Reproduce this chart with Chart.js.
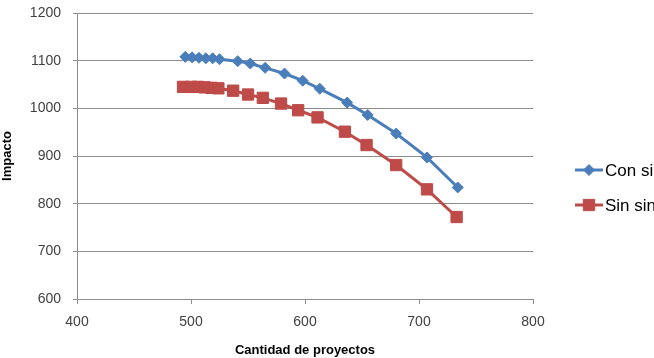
<!DOCTYPE html>
<html>
<head>
<meta charset="utf-8">
<script src="https://cdn.jsdelivr.net/npm/chart.js@4"></script>
<style>
  html, body { margin: 0; padding: 0; background: #fff; }
  #wrap { width: 654px; height: 358px; }
</style>
</head>
<body>
<div id="wrap"><canvas id="chart" width="654" height="358"></canvas></div>
<script>
// ================= DATA =================
const seriesNames = ["Con sinergias", "Sin sinergias"];

const conX = [495, 501, 507, 513, 519, 525, 541, 552, 565, 582, 598, 613, 637, 655, 680, 707, 734];
const conY = [1108, 1107, 1106, 1105, 1105, 1103, 1099, 1094, 1085, 1073, 1058, 1041, 1012, 986, 947, 897, 834];

const sinX = [493, 500, 506, 512, 518, 524, 537, 550, 563, 579, 594, 611, 635, 654, 680, 707, 733];
const sinY = [1045, 1045, 1045, 1044, 1043, 1042, 1037, 1029, 1022, 1010, 996, 981, 951, 923, 881, 830, 772];

const xTicks = [400, 500, 600, 700, 800];
const yTicks = [600, 700, 800, 900, 1000, 1100, 1200];

const xTitle = "Cantidad de proyectos";
const yTitle = "Impacto";

// ================= STYLE =================
const blue = "#4a7ebb";
const red = "#be4b48";
const gridColor = "#8c8c8c";
const textColor = "#404040";
const fontFamily = "'Liberation Sans', 'DejaVu Sans', sans-serif";

function toPoints(xs, ys) {
  return xs.map((x, i) => ({ x: x, y: ys[i] }));
}

// ================= LEGEND (drawn at right of plot) =================
const sideLegend = {
  id: "sideLegend",
  afterDraw(chart) {
    const ctx = chart.ctx;
    const area = chart.chartArea;
    const left = area.right + 42;
    const rows = [170, 205];
    ctx.save();
    chart.data.datasets.forEach((ds, i) => {
      const y = rows[i];
      ctx.strokeStyle = ds.borderColor;
      ctx.lineWidth = 3;
      ctx.beginPath();
      ctx.moveTo(left, y);
      ctx.lineTo(left + 28, y);
      ctx.stroke();
      ctx.fillStyle = ds.backgroundColor;
      ctx.lineWidth = 1;
      Chart.helpers.drawPoint(ctx, {
        pointStyle: ds.pointStyle,
        radius: ds.pointRadius,
        borderWidth: 1
      }, left + 14, y);
      ctx.fillStyle = "#000";
      ctx.font = "17px " + fontFamily;
      ctx.textBaseline = "middle";
      ctx.textAlign = "left";
      ctx.fillText(ds.label, left + 30, y + 1);
    });
    ctx.restore();
  }
};

// ================= CHART =================
new Chart(document.getElementById("chart"), {
  type: "scatter",
  data: {
    datasets: [
      {
        label: seriesNames[0],
        data: toPoints(conX, conY),
        showLine: true,
        borderColor: blue,
        backgroundColor: blue,
        borderWidth: 3,
        pointStyle: "rectRot",
        pointRadius: 5.5,
        pointHoverRadius: 5.5,
        pointBorderWidth: 1,
        tension: 0
      },
      {
        label: seriesNames[1],
        data: toPoints(sinX, sinY),
        showLine: true,
        borderColor: red,
        backgroundColor: red,
        borderWidth: 3,
        pointStyle: "rect",
        pointRadius: 8,
        pointHoverRadius: 8,
        pointBorderWidth: 1,
        tension: 0
      }
    ]
  },
  options: {
    responsive: false,
    animation: false,
    layout: { padding: { top: 13, right: 121, left: 0, bottom: 0 } },
    plugins: {
      legend: { display: false },
      tooltip: { enabled: false }
    },
    scales: {
      x: {
        type: "linear",
        min: xTicks[0],
        max: xTicks[xTicks.length - 1],
        afterBuildTicks: (axis) => { axis.ticks = xTicks.map(v => ({ value: v })); },
        afterFit: (axis) => {
          axis.height = 59;
          axis.paddingLeft = 0;
          axis.paddingRight = 0;
        },
        grid: {
          drawOnChartArea: false,
          drawTicks: true,
          tickLength: 5,
          color: gridColor
        },
        border: { color: gridColor, width: 1 },
        ticks: {
          color: textColor,
          font: { family: fontFamily, size: 14 },
          padding: 10,
          maxRotation: 0,
          callback: (v) => String(v)
        },
        title: {
          display: true,
          text: xTitle,
          color: "#000",
          font: { family: fontFamily, size: 13, weight: "bold" },
          padding: { top: 3, bottom: 0 }
        }
      },
      y: {
        type: "linear",
        min: yTicks[0],
        max: yTicks[yTicks.length - 1],
        afterBuildTicks: (axis) => { axis.ticks = yTicks.map(v => ({ value: v })); },
        afterFit: (axis) => {
          axis.width = 77;
          axis.paddingTop = 0;
          axis.paddingBottom = 0;
        },
        grid: {
          drawTicks: true,
          tickLength: 4,
          color: gridColor
        },
        border: { color: gridColor, width: 1 },
        ticks: {
          color: textColor,
          font: { family: fontFamily, size: 14 },
          padding: 12,
          callback: (v) => String(v)
        },
        title: {
          display: true,
          text: yTitle,
          color: "#000",
          font: { family: fontFamily, size: 13, weight: "bold" },
          padding: { top: 0, bottom: 0 }
        }
      }
    }
  },
  plugins: [sideLegend]
});
</script>
</body>
</html>
